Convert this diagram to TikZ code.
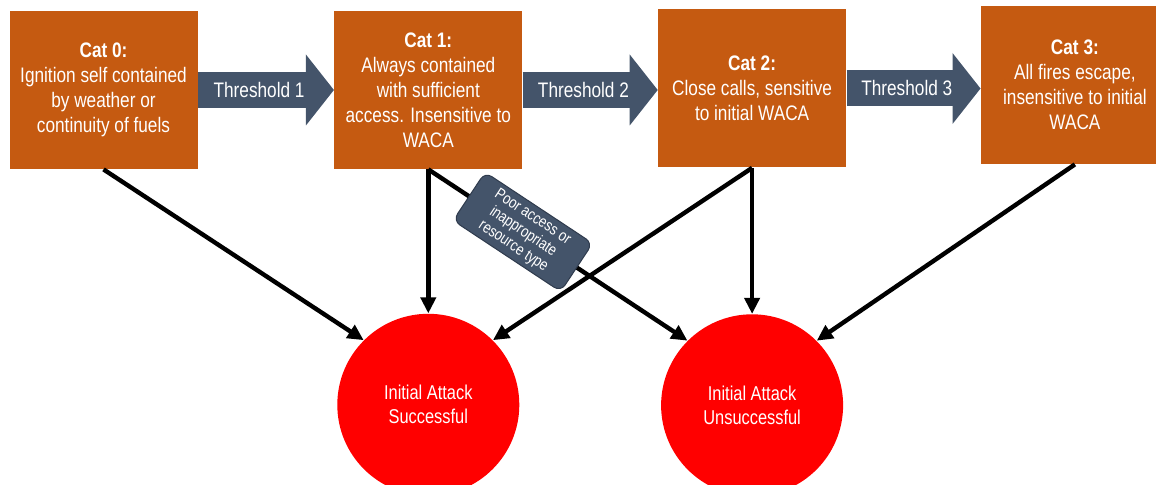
\documentclass[tikz,border=0pt]{standalone}
\usepackage{fontspec}
\setmainfont{Liberation Sans}[FakeStretch=0.82]
\usetikzlibrary{arrows.meta,positioning}
\definecolor{catorange}{HTML}{C55A11}
\definecolor{slate}{HTML}{44546A}
\definecolor{slateline}{HTML}{2F3B4D}
\tikzset{
	catbox/.style={fill=catorange, text=white, align=center, inner sep=0pt,
		minimum width=94pt, minimum height=79pt, font=\fontsize{10.5}{12.5}\selectfont},
	outcome/.style={circle, fill=red, text=white, align=center, inner sep=0pt,
		minimum size=91pt, font=\fontsize{10}{12}\selectfont},
	threshold/.style={slate, line width=18pt, -{Triangle[length=14pt,width=35.5pt,line width=0pt]}},
	thrtext/.style={text=white, pos=0.45, font=\fontsize{10.5}{12.5}\selectfont},
	link/.style={line width=2.2pt, -{Triangle[length=8pt,width=7.5pt]}},
	note/.style={fill=slate, draw=slateline, line width=0.5pt, rounded corners=4pt, text=white,
		align=center, minimum width=64.5pt, minimum height=29pt, inner sep=1pt,
		font=\fontsize{8}{8.8}\selectfont}
}

\begin{document}
\begin{tikzpicture}[x=0.5pt, y=-0.5pt]
	\useasboundingbox (0,0) rectangle (1156,485);
	\clip (0,0) rectangle (1156,485);

	\node [catbox]                                (c0) at (103.5,90) {\textbf{Cat 0:}\\Ignition self contained\\by weather or\\continuity of fuels} ;
	\node [catbox, right=68pt of c0]              (c1) {\textbf{Cat 1:}\\Always contained\\with sufficient\\access. Insensitive to\\WACA} ;
	\node [catbox, right=67.5pt of c1, yshift=0.75pt] (c2) {\textbf{Cat 2:}\\Close calls, sensitive\\to initial WACA} ;
	\node [catbox, right=67pt of c2, yshift=1.75pt]   (c3) {\textbf{Cat 3:}\\All fires escape,\\insensitive to initial\\WACA} ;

	\node [outcome, below=72pt of c1] (succ) {Initial Attack\\Successful} ;
	\node [outcome, below=73pt of c2] (fail) {Initial Attack\\Unsuccessful} ;

	\draw [threshold] (c0.east) -- node [thrtext] {Threshold 1} (c0.east -| c1.west) ;
	\draw [threshold] (c1.east) -- node [thrtext] {Threshold 2} (c1.east -| c2.west) ;
	\draw [threshold] (c2.east) -- node [thrtext] {Threshold 3} (c2.east -| c3.west) ;

	\draw [link] (c0.south) -- (succ.135) ;
	\draw [link] (c1.south) -- (succ) ;
	\draw [link] (c1.south) -- node [note, sloped, pos=0.365] (poor) {Poor access or\\inappropriate\\resource type} (fail.135) ;
	\draw [link] (c2.south) -- (succ.45) ;
	\draw [link] (c2.south) -- (fail) ;
	\draw [link] (c3.south) -- (fail.45) ;
\end{tikzpicture}
\end{document}
